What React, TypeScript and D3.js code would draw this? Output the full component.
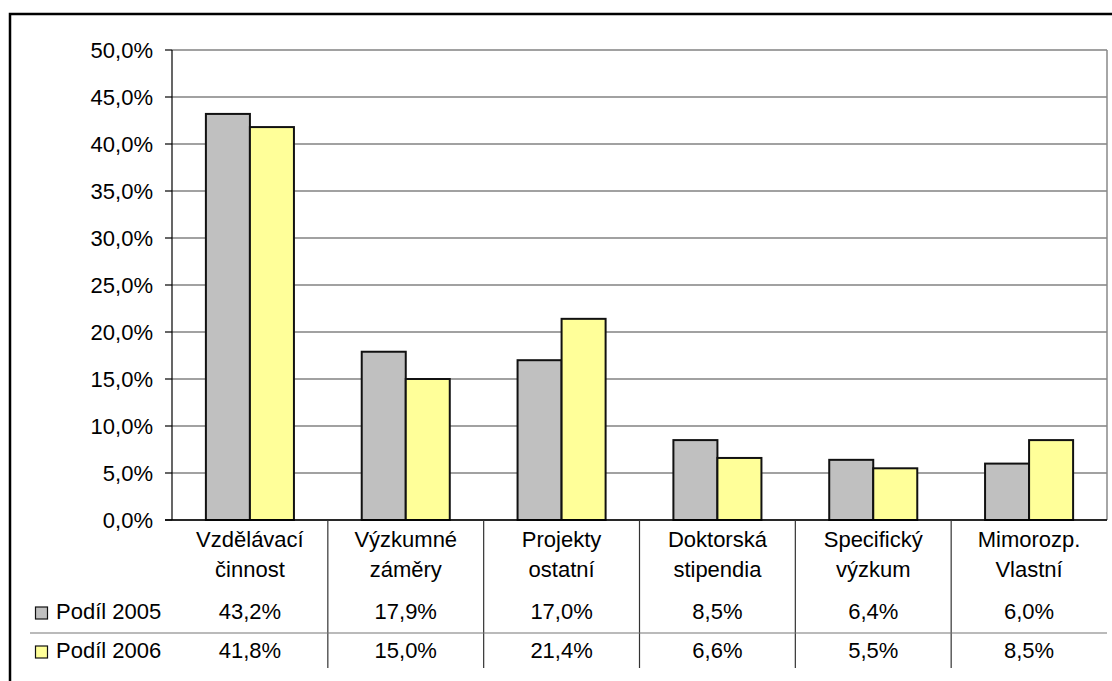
import React from 'react';
import * as d3 from 'd3';

const categories = ['Vzdělávací činnost', 'Výzkumné záměry', 'Projekty ostatní', 'Doktorská stipendia', 'Specifický výzkum', 'Mimorozp. Vlastní'];
const categoryLines = [
  ['Vzdělávací', 'činnost'],
  ['Výzkumné', 'záměry'],
  ['Projekty', 'ostatní'],
  ['Doktorská', 'stipendia'],
  ['Specifický', 'výzkum'],
  ['Mimorozp.', 'Vlastní'],
];
const seriesNames = ['Podíl 2005', 'Podíl 2006'];
const values2005 = [43.2, 17.9, 17.0, 8.5, 6.4, 6.0];
const values2006 = [41.8, 15.0, 21.4, 6.6, 5.5, 8.5];
const yTicks = [0, 5, 10, 15, 20, 25, 30, 35, 40, 45, 50];
const colors = ['#C0C0C0', '#FFFF99'];

const W = 1112;
const H = 681;
const left = 172;
const right = 1107;
const top = 50;
const bottom = 520;
const font = '"Liberation Sans", Arial, sans-serif';
const fs = 22;

const fmt = (v: number) => v.toFixed(1).replace('.', ',') + '%';

export default function App() {
  const x = d3.scaleBand().domain(categories).range([left, right]).paddingInner(0).paddingOuter(0);
  const xs = d3.scaleBand().domain(seriesNames).range([0, x.bandwidth()]).paddingInner(0).paddingOuter(0.77);
  const y = d3.scaleLinear().domain([0, 50]).range([bottom, top]);
  const series = [values2005, values2006];
  const rowY = [619, 658];
  const rowLine = 633;

  return (
    <svg width={W} height={H} style={{ position: 'absolute', left: 0, top: 0, background: '#fff' }} fontFamily={font}>
      <rect x={10} y={14} width={W + 20} height={H + 20} fill="#fff" stroke="#000" strokeWidth={2.5} />

      {/* gridlines */}
      {yTicks.map((t) => (
        <line key={'g' + t} x1={left} x2={right} y1={y(t)} y2={y(t)} stroke="#444" strokeWidth={1.2} />
      ))}
      <line x1={right} x2={right} y1={top} y2={bottom} stroke="#888" strokeWidth={1.5} />

      {/* bars */}
      {series.map((vals, si) =>
        vals.map((v, i) => (
          <rect
            key={si + '-' + i}
            x={(x(categories[i]) as number) + (xs(seriesNames[si]) as number)}
            y={y(v)}
            width={xs.bandwidth()}
            height={bottom - y(v)}
            fill={colors[si]}
            stroke="#111"
            strokeWidth={2}
          />
        ))
      )}

      {/* y axis */}
      <line x1={left} x2={left} y1={top} y2={bottom} stroke="#000" strokeWidth={1.2} />
      {yTicks.map((t) => (
        <g key={'t' + t}>
          <line x1={left - 7} x2={left} y1={y(t)} y2={y(t)} stroke="#000" strokeWidth={1.2} />
          <text x={153} y={y(t) + 7.5} textAnchor="end" fontSize={fs} fill="#000">{fmt(t)}</text>
        </g>
      ))}
      <line x1={left - 7} x2={right} y1={bottom} y2={bottom} stroke="#000" strokeWidth={1.5} />

      {/* data table */}
      {categories.map((c, i) => {
        const cx = (x(c) as number) + x.bandwidth() / 2;
        return (
          <g key={'c' + i}>
            <text x={cx} y={547} textAnchor="middle" fontSize={fs}>{categoryLines[i][0]}</text>
            <text x={cx} y={577} textAnchor="middle" fontSize={fs}>{categoryLines[i][1]}</text>
            {series.map((vals, si) => (
              <text key={si} x={cx} y={rowY[si]} textAnchor="middle" fontSize={fs}>{fmt(vals[i])}</text>
            ))}
            {i > 0 && (
              <line x1={x(c) as number} x2={x(c) as number} y1={bottom} y2={668} stroke="#333" strokeWidth={1.2} />
            )}
          </g>
        );
      })}
      <line x1={30} x2={right} y1={rowLine} y2={rowLine} stroke="#777" strokeWidth={1.2} />

      {/* legend keys */}
      {seriesNames.map((s, si) => (
        <g key={s}>
          <rect x={35.5} y={rowY[si] - 12} width={12} height={12} fill={colors[si]} stroke="#111" strokeWidth={1.2} />
          <text x={56} y={rowY[si]} fontSize={fs}>{s}</text>
        </g>
      ))}
    </svg>
  );
}
